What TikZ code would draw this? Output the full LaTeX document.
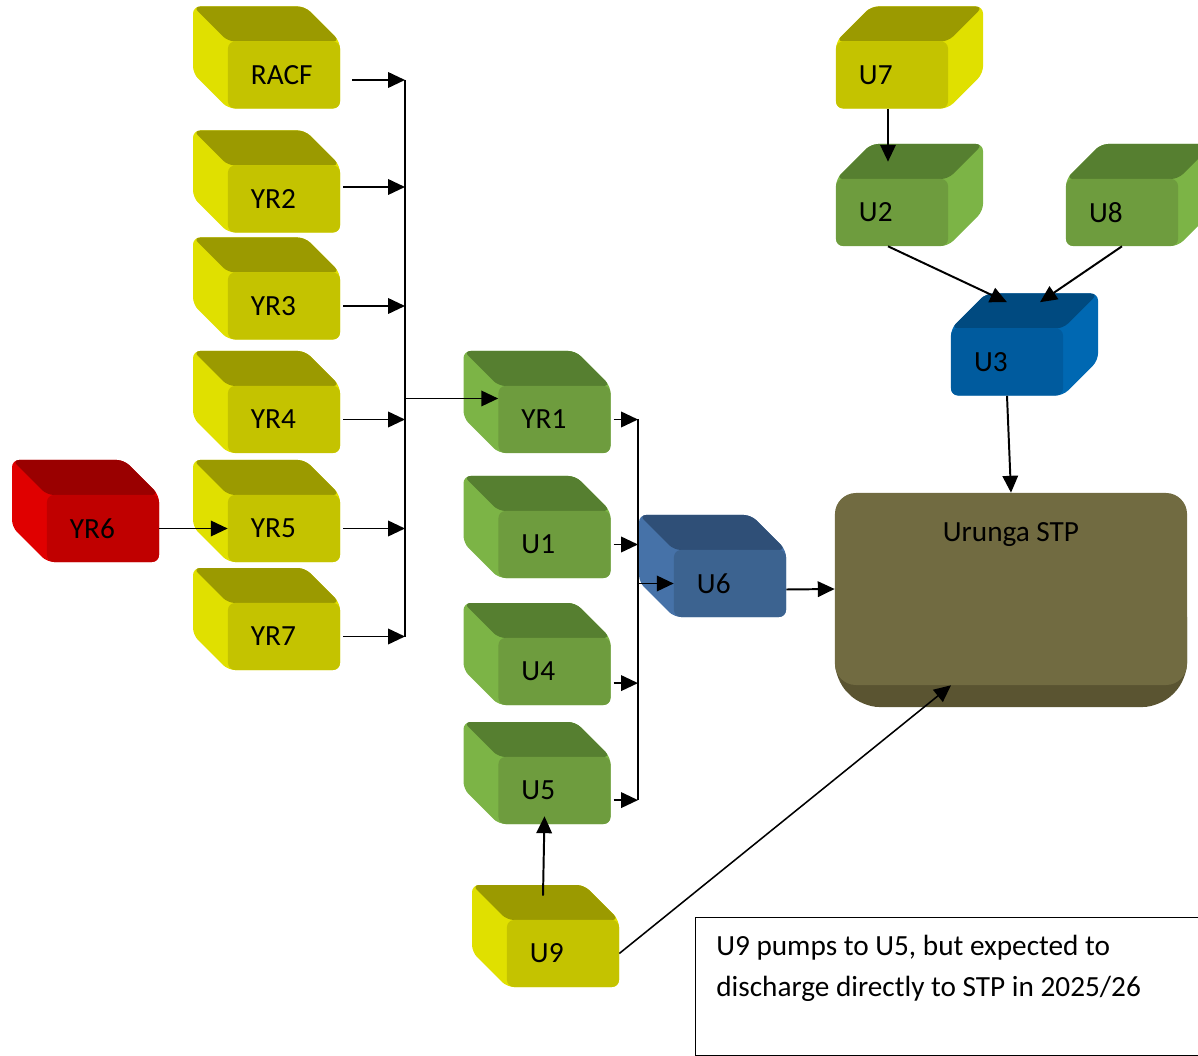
\documentclass[tikz,border=0pt]{standalone}
\usepackage{fontspec}
\setmainfont{Carlito}
\usetikzlibrary{arrows.meta,calc}
\definecolor{yelfront}{HTML}{C4C300}
\definecolor{yeltop}{HTML}{9B9A00}
\definecolor{yelside}{HTML}{E0E000}
\definecolor{grnfront}{HTML}{6E9C3E}
\definecolor{grntop}{HTML}{567F30}
\definecolor{grnside}{HTML}{7CB446}
\definecolor{redfront}{HTML}{C00000}
\definecolor{redtop}{HTML}{9A0000}
\definecolor{redside}{HTML}{E00000}
\definecolor{bluefront}{HTML}{3C6390}
\definecolor{bluetop}{HTML}{2F4F77}
\definecolor{blueside}{HTML}{4672A8}
\definecolor{navyfront}{HTML}{005B9E}
\definecolor{navytop}{HTML}{004A80}
\definecolor{navyside}{HTML}{0068B2}
\definecolor{stpfront}{HTML}{716B41}
\definecolor{stpbase}{HTML}{5A5431}

\tikzset{
  cube/.style={rectangle, rounded corners=5pt, inner xsep=0.575cm, inner ysep=0pt,
    text width=1.65cm, align=left, minimum height=1.675cm,
    font=\fontsize{20.8}{25}\selectfont},
  stp/.style={rectangle, rounded corners=15pt, fill=stpfront, minimum width=8.8cm,
    inner ysep=0.3cm, text height=0.925cm, text depth=3.275cm,
    font=\fontsize{20.8}{25}\selectfont},
  flow/.style={-{Triangle[length=12pt,width=11pt]}, line width=1.4pt},
  bus/.style={line width=1.4pt}
}

% cube seen from the upper left: name, centre of front face, colour, label
\newcommand{\cubeL}[4]{%
  \begin{scope}[shift={#2}]
    \fill[#3side, rounded corners=5pt] (-91,-68.5) -- (21,-68.5) -- (56,-33.5) -- (56,33.5) -- (-56,33.5) -- (-91,-1.5) -- cycle;
    \fill[#3top, rounded corners=5pt] (-91,-68.5) -- (21,-68.5) -- (56,-33.5) -- (-56,-33.5) -- cycle;
  \end{scope}
  \node[cube, fill=#3front] (#1) at #2 {#4};
}
% cube seen from the upper right
\newcommand{\cubeR}[4]{%
  \begin{scope}[shift={#2}]
    \fill[#3side, rounded corners=5pt] (-56,-33.5) -- (-21,-68.5) -- (91,-68.5) -- (91,-1.5) -- (56,33.5) -- (-56,33.5) -- cycle;
    \fill[#3top, rounded corners=5pt] (-56,-33.5) -- (-21,-68.5) -- (91,-68.5) -- (56,-33.5) -- cycle;
  \end{scope}
  \node[cube, fill=#3front] (#1) at #2 {#4};
}

\begin{document}
\begin{tikzpicture}[x=0.025cm, y=-0.025cm]
  \useasboundingbox (0,0) rectangle (1198,1056);

  % yard pump stations
  \foreach \name/\y in {RACF/75, YR2/199, YR3/306, YR4/419.5, YR5/528.5, YR7/636.5} {
    \cubeL{\name}{(284,\y)}{yel}{\name}
  }
  \cubeL{YR6}{(103,528.5)}{red}{YR6}

  % Urunga stations
  \foreach \name/\y in {YR1/419.5, U1/544.5, U4/671.5, U5/790.5} {
    \cubeL{\name}{(554.5,\y)}{grn}{\name}
  }
  \cubeL{U9}{(563,953.5)}{yel}{U9}
  \cubeL{U6}{(730,583.5)}{blue}{U6}
  \cubeR{U7}{(892,75)}{yel}{U7}
  \cubeR{U2}{(892,212.5)}{grn}{U2}
  \cubeR{U8}{(1122,212.5)}{grn}{U8}
  \cubeR{U3}{(1007,362)}{navy}{U3}

  % treatment plant
  \fill[stpbase, rounded corners=12pt] (835,600) -- (1187,600) -- (1187,680) -- (1160,707) -- (862,707) -- (835,680) -- cycle;
  \node[stp] (STP) at (1011,589) {Urunga STP};

  % note
  \node[draw, line width=0.8pt, minimum width=12.75cm, minimum height=3.45cm, anchor=north west, inner sep=0] (note) at (695,917) {};
  \node[anchor=north west, align=left, inner sep=0, font=\fontsize{20.8}{29.1}\selectfont] (notetext)
    at ([xshift=0.525cm, yshift=-0.45cm]note.north west) {U9 pumps to U5, but expected to\\discharge directly to STP in 2025/26};

  % collector lines
  \coordinate (busA) at (405,0);
  \coordinate (busB) at (638,0);
  \coordinate (racfout) at ([yshift=-0.125cm]RACF.east);
  \coordinate (yr2out) at ([yshift=0.3cm]YR2.east);
  \coordinate (yr1in) at ([yshift=0.525cm]YR1.west);
  \coordinate (u4out) at ([yshift=-0.29cm]U4.east);
  \coordinate (u5out) at ([yshift=-0.24cm]U5.east);

  \draw[bus] (racfout -| busA) -- (YR7.east -| busA);
  \draw[flow] ([xshift=0.3cm]racfout) -- (racfout -| busA);
  \draw[flow] ([xshift=2pt]yr2out) -- (yr2out -| busA);
  \foreach \src in {YR3, YR4, YR5, YR7}
    \draw[flow] ([xshift=2pt]\src.east) -- (\src.east -| busA);
  \draw[flow] (yr1in -| busA) -- (yr1in);
  \draw[flow] (YR6.east) -- (YR5.west);

  \draw[bus] (YR1.east -| busB) -- (u5out -| busB);
  \foreach \src in {YR1, U1}
    \draw[flow] ([xshift=2pt]\src.east) -- (\src.east -| busB);
  \draw[flow] ([xshift=2pt]u4out) -- (u4out -| busB);
  \draw[flow] ([xshift=2pt]u5out) -- (u5out -| busB);
  \draw[flow] (busB |- U6.west) -- (U6.west);
  \draw[flow] ([yshift=-0.15cm]U6.east) -- (STP.west);

  \draw[flow] ([xshift=-0.1cm]U7.south) -- ([xshift=-0.1cm, yshift=0.425cm]U2.north);
  \draw[flow] ([xshift=-0.1cm]U2.south) -- ([yshift=0.65cm]U3.north);
  \draw[flow] (U8.south) -- ([xshift=0.825cm, yshift=0.65cm]U3.north);
  \draw[flow] (U3.south) -- (STP.north);

  \draw[flow] ([xshift=-0.5cm, yshift=0.6cm]U9.north) -- ([xshift=-0.25cm, yshift=0.2cm]U5.south);
  \draw[flow, line width=1.1pt] (U9.east) -- ([xshift=-1.5cm]STP.south);
\end{tikzpicture}
\end{document}
